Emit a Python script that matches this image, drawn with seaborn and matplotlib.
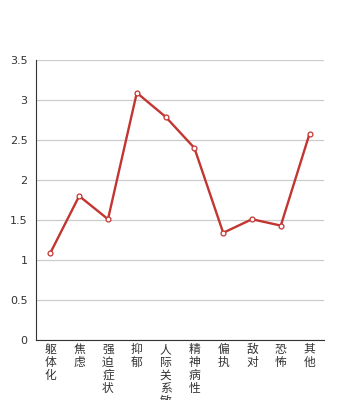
import matplotlib
matplotlib.use("Agg")
import matplotlib.pyplot as plt
import seaborn as sns
import numpy as np

categories = ["躯体化", "焦虑", "强迫症状", "抑郁", "人际关系敏感", "精神病性", "偏执", "敌对", "恐怖", "其他"]
values = [1.09, 1.80, 1.51, 3.09, 2.79, 2.40, 1.34, 1.51, 1.43, 2.58]
yticks = [0, 0.5, 1, 1.5, 2, 2.5, 3, 3.5]
ytick_labels = ["0", "0.5", "1", "1.5", "2", "2.5", "3", "3.5"]

sns.set_style("white")
plt.rcParams['font.family'] = ['Noto Sans CJK SC', 'DejaVu Sans']

fig = plt.figure(figsize=(3.6, 4.0), dpi=100)
ax = fig.add_axes([0.1, 0.15, 0.8, 0.70])

x = np.arange(len(categories))
sns.lineplot(x=x, y=values, ax=ax, color="#c23531", linewidth=1.7,
             marker="o", markersize=3.5, markerfacecolor="white",
             markeredgecolor="#c23531", markeredgewidth=0.9)

ax.set_xlim(-0.5, len(categories) - 0.5)
ax.set_ylim(0, 3.5)
ax.set_yticks(yticks)
ax.set_yticklabels(ytick_labels, fontsize=8, color="#333333", family=["DejaVu Sans"])
ax.yaxis.grid(True, color="#cccccc", linewidth=0.9)
ax.set_axisbelow(True)

ax.set_xticks(x)
ax.set_xticklabels(["\n".join(c) for c in categories], fontsize=8.5, color="#333333",
                   linespacing=1.0, va="top")
ax.tick_params(axis="x", which="major", length=0, pad=2)
ax.set_xticks(np.arange(-0.5, len(categories), 1), minor=True)
ax.tick_params(axis="x", which="minor", length=4, width=0.8, color="#333333", direction="out")
ax.tick_params(axis="y", length=4, width=0.8, color="#333333", direction="out", pad=2)

for s in ["top", "right"]:
    ax.spines[s].set_visible(False)
for s in ["left", "bottom"]:
    ax.spines[s].set_color("#333333")
    ax.spines[s].set_linewidth(0.8)

fig.savefig("out.png", dpi=100)
